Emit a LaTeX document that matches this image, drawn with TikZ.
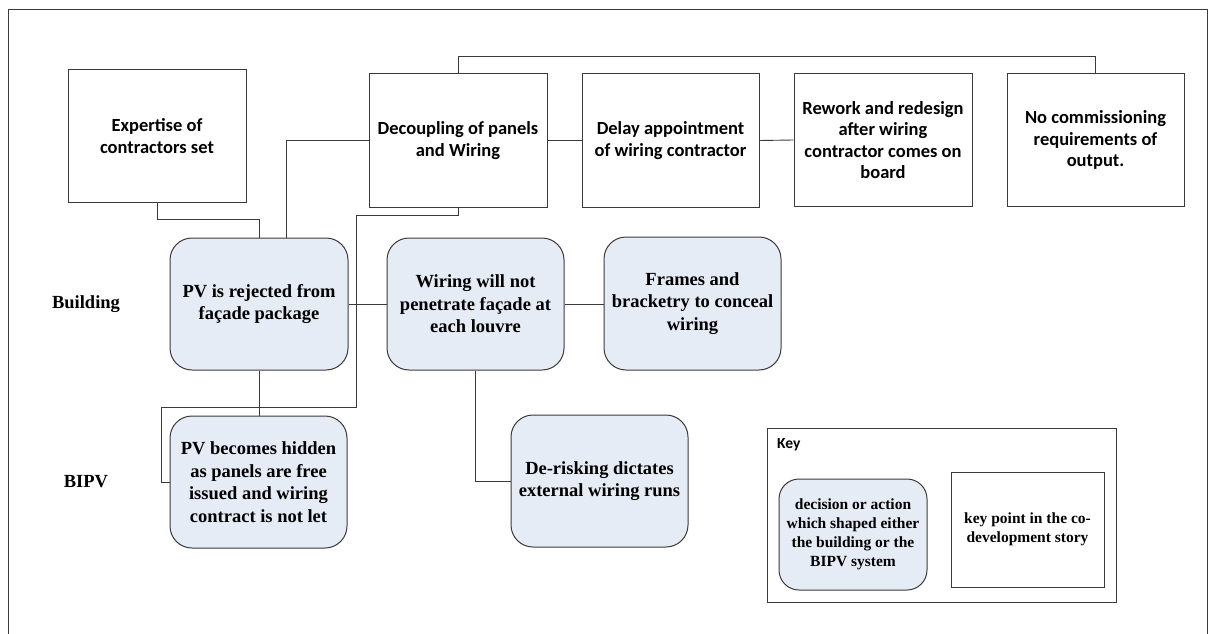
\documentclass[tikz,border=0pt]{standalone}
\usepackage{fontspec}
\setmainfont{Liberation Serif}
\newfontfamily\keyfont{Carlito}
\usetikzlibrary{positioning}
\definecolor{boxline}{HTML}{3A3A3A}
\definecolor{actfill}{HTML}{E6ECF6}
\tikzset{
  conn/.style={draw=boxline, line width=0.9pt},
  pointbox/.style={draw=boxline, line width=1pt, fill=white, align=center,
    inner sep=2pt, font=\keyfont\bfseries\fontsize{18.5}{21.5}\selectfont},
  actbox/.style={draw=boxline, line width=1pt, fill=actfill, rounded corners=22pt,
    align=center, inner sep=2pt, font=\bfseries\fontsize{18.5}{22.5}\selectfont},
  sidelabel/.style={font=\bfseries\fontsize{18.5}{22}\selectfont},
}
\begin{document}
\begin{tikzpicture}[x=1pt, y=-1pt]
\useasboundingbox (0,0) rectangle (1210,634);
% outer frame (runs off the bottom edge)
\draw[boxline, line width=1pt] (8,640) -- (8,10) -- (1207,10) -- (1207,640);

% key points in the story
\node[pointbox, minimum width=178pt, minimum height=132pt] (exp) at (157,136) {Expertise of\\contractors set};
\node[pointbox, minimum width=178pt, minimum height=133pt] (dec) at (458,140.5) {Decoupling of panels\\and Wiring};
\node[pointbox, minimum width=177pt, minimum height=133pt] (del) at (670.5,140.5) {Delay appointment\\of wiring contractor};
\node[pointbox, minimum width=178pt, minimum height=132pt] (rew) at (883,140) {Rework and redesign\\after wiring\\contractor comes on\\board};
\node[pointbox, minimum width=177pt, minimum height=132pt] (noc) at (1095.5,140) {No commissioning\\requirements of\\output.};

% decisions and actions
\node[actbox, minimum width=178pt, minimum height=132pt] (rej) at (259,304) {PV is rejected from\\façade package};
\node[actbox, minimum width=177pt, minimum height=132pt] (wir) at (475.5,304) {Wiring will not\\penetrate façade at\\each louvre};
\node[actbox, minimum width=177pt, minimum height=133pt] (fra) at (692.5,303.5) {Frames and\\bracketry to conceal\\wiring};
\node[actbox, minimum width=177pt, minimum height=132pt] (hid) at (258.5,482) {PV becomes hidden\\as panels are free\\issued and wiring\\contract is not let};
\node[actbox, minimum width=177pt, minimum height=132pt] (der) at (599.5,481) {De-risking dictates\\external wiring runs};

% row labels
\node[sidelabel] (lbld) at (86,304) {Building};
\node[sidelabel] (lbipv) at (86,482) {BIPV};

% connectors
\draw[conn] (exp.south) -- ++(0,17) -| (rej.north);
\draw[conn] ([xshift=27pt]rej.north) |- (dec.west);
\draw[conn] (dec.east) -- (del.west);
\draw[conn] (del.east) -- (rew.west);
\draw[conn] (dec.north) -- ++(0,-17) -| (noc.north);
\coordinate (jn) at (356,407);
\draw[conn] (dec.south) -- ++(0,8) -| (jn) -| ([xshift=-8pt]hid.west) -- (hid.west);
\draw[conn] (rej.east) -- (wir.west);
\draw[conn] (wir.east) -- (wir.east -| fra.west);
\draw[conn] (rej.south) -- (rej.south |- hid.north);
\draw[conn] (wir.south) |- (der.west);

% key
\draw[boxline, line width=1pt] (767,428) rectangle (1116,602);
\node[anchor=west, font=\keyfont\bfseries\fontsize{15.5}{18}\selectfont, inner sep=0pt] (keyt) at (777,445) {Key};
\node[actbox, rounded corners=20pt, minimum width=148pt, minimum height=111pt,
  font=\bfseries\fontsize{15.5}{19}\selectfont] (keya) at (853,534.5) {decision or action\\which shaped either\\the building or the\\BIPV system};
\node[draw=boxline, line width=1pt, minimum width=153pt, minimum height=115pt, align=center,
  font=\bfseries\fontsize{15.5}{19.5}\selectfont] (keyp) at (1027.5,529.5) {key point in the co-\\development story};
\end{tikzpicture}
\end{document}
